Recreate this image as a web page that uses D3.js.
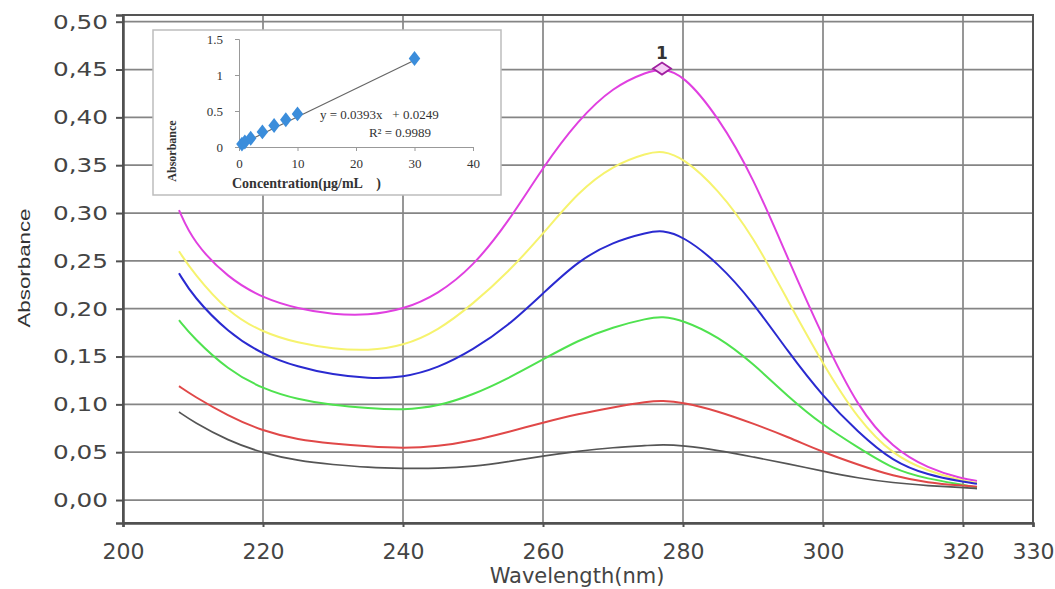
<!DOCTYPE html>
<html>
<head>
<meta charset="utf-8">
<script src="https://cdn.jsdelivr.net/npm/d3@7"></script>
<style>
  body { margin: 0; background: #fff; }
  text { white-space: pre; }
</style>
</head>
<body>
<svg id="chart" width="1055" height="589"></svg>
<script>
// spectra
var wavelengths = [208, 210, 215, 220, 225, 230, 235, 240, 245, 250, 255, 260, 265, 270, 275, 277, 280, 285, 290, 295, 300, 305, 310, 315, 320, 322];
var magenta = [0.303, 0.270, 0.232, 0.211, 0.200, 0.194, 0.193, 0.199, 0.215, 0.244, 0.290, 0.348, 0.397, 0.432, 0.448, 0.451, 0.445, 0.401, 0.338, 0.252, 0.170, 0.096, 0.054, 0.033, 0.022, 0.020];
var yellow  = [0.260, 0.238, 0.196, 0.175, 0.164, 0.158, 0.156, 0.161, 0.177, 0.205, 0.238, 0.278, 0.322, 0.350, 0.363, 0.365, 0.358, 0.325, 0.276, 0.208, 0.142, 0.084, 0.047, 0.030, 0.020, 0.018];
var blue    = [0.237, 0.213, 0.175, 0.152, 0.139, 0.131, 0.127, 0.128, 0.138, 0.157, 0.182, 0.216, 0.250, 0.270, 0.280, 0.282, 0.276, 0.248, 0.207, 0.155, 0.108, 0.071, 0.040, 0.026, 0.019, 0.017];
var green   = [0.188, 0.170, 0.136, 0.116, 0.105, 0.099, 0.096, 0.094, 0.098, 0.110, 0.127, 0.147, 0.167, 0.181, 0.190, 0.192, 0.188, 0.171, 0.143, 0.108, 0.078, 0.055, 0.032, 0.022, 0.016, 0.013];
var red     = [0.119, 0.109, 0.088, 0.072, 0.063, 0.059, 0.056, 0.054, 0.056, 0.062, 0.071, 0.081, 0.090, 0.097, 0.103, 0.104, 0.102, 0.093, 0.080, 0.066, 0.050, 0.037, 0.025, 0.018, 0.015, 0.014];
var black   = [0.092, 0.082, 0.062, 0.049, 0.041, 0.037, 0.034, 0.033, 0.033, 0.035, 0.040, 0.046, 0.051, 0.055, 0.057, 0.058, 0.057, 0.052, 0.045, 0.038, 0.030, 0.023, 0.018, 0.015, 0.013, 0.012];

var seriesColors = ['#e040e0', '#f6f36e', '#2a2ad0', '#4fe24f', '#e04848', '#555555'];
var peak = { x: 277, y: 0.451, label: '1' };

var xTicks = [200, 220, 240, 260, 280, 300, 320, 330];
var yTicks = [0, 0.05, 0.10, 0.15, 0.20, 0.25, 0.30, 0.35, 0.40, 0.45, 0.50];

// calibration inset
var concentrations = [0.5, 1, 2, 4, 6, 8, 10, 30];
var calAbsorbance = [0.04, 0.07, 0.12, 0.21, 0.30, 0.38, 0.46, 1.23];
var trendX = [0, 30];
var trendY = [0.0249, 1.2039];
var insetXTicks = [0, 10, 20, 30, 40];
var insetYTicks = [0, 0.5, 1, 1.5];

var svg = d3.select('#chart');

var x = d3.scaleLinear().domain([200, 330]).range([123, 1033]);
var y = d3.scaleLinear().domain([-0.024, 0.507]).range([523, 15]);

// grid
svg.append('g').selectAll('line').data(yTicks).enter().append('line')
  .attr('x1', 123).attr('x2', 1033)
  .attr('y1', function(d) { return y(d); }).attr('y2', function(d) { return y(d); })
  .attr('stroke', '#858585').attr('stroke-width', 1.7);

svg.append('g').selectAll('line').data(xTicks.filter(function(d) { return d > 200 && d < 330; })).enter().append('line')
  .attr('y1', 15).attr('y2', 523)
  .attr('x1', function(d) { return x(d); }).attr('x2', function(d) { return x(d); })
  .attr('stroke', '#858585').attr('stroke-width', 1.7);

// frame
svg.append('rect')
  .attr('x', 123).attr('y', 15).attr('width', 910).attr('height', 508)
  .attr('fill', 'none').attr('stroke', '#555').attr('stroke-width', 2);

// axes
var yAxis = svg.append('g')
  .attr('transform', 'translate(123,0)')
  .call(d3.axisLeft(y).tickValues(yTicks).tickSize(7).tickPadding(8)
    .tickFormat(function(d) { return d3.format('.2f')(d).replace('.', ','); }));

var xAxis = svg.append('g')
  .attr('transform', 'translate(0,523)')
  .call(d3.axisBottom(x).tickValues(xTicks).tickSize(4).tickPadding(16).tickFormat(d3.format('d')));

[yAxis, xAxis].forEach(function(ax) {
  ax.select('.domain').attr('stroke', '#505050').attr('stroke-width', 2.5);
  ax.selectAll('.tick line').attr('stroke', '#505050').attr('stroke-width', 2);
  ax.selectAll('.tick text').attr('fill', '#444').attr('font-family', 'DejaVu Sans');
});
yAxis.selectAll('.tick text').attr('font-size', 20)
  .attr('textLength', 55).attr('lengthAdjust', 'spacingAndGlyphs');
xAxis.selectAll('.tick text').attr('font-size', 22);

// curves
var line = d3.line()
  .x(function(d) { return x(d[0]); })
  .y(function(d) { return y(d[1]); })
  .curve(d3.curveBasis);

[magenta, yellow, blue, green, red, black].forEach(function(s, i) {
  svg.append('path')
    .datum(wavelengths.map(function(w, j) { return [w, s[j]]; }))
    .attr('d', line)
    .attr('fill', 'none')
    .attr('stroke', seriesColors[i])
    .attr('stroke-width', i == 5 ? 1.7 : 2);
});

// peak marker: flat open diamond
var px = x(peak.x), py = y(peak.y);
svg.append('path')
  .attr('d', 'M' + (px - 9) + ',' + py + 'L' + px + ',' + (py - 6) + 'L' + (px + 9) + ',' + py + 'L' + px + ',' + (py + 6) + 'Z')
  .attr('fill', '#f6cdf6').attr('stroke', '#a020a0').attr('stroke-width', 1.8);

svg.append('text')
  .attr('x', px).attr('y', py - 10)
  .attr('text-anchor', 'middle')
  .attr('font-family', 'DejaVu Sans').attr('font-size', 17).attr('font-weight', 'bold')
  .attr('fill', '#333')
  .text(peak.label);

// axis titles
svg.append('text')
  .attr('transform', 'translate(30,268) rotate(-90)')
  .attr('text-anchor', 'middle')
  .attr('font-family', 'Liberation Sans').attr('font-size', 17)
  .attr('textLength', 119).attr('lengthAdjust', 'spacingAndGlyphs')
  .attr('fill', '#333')
  .text('Absorbance');

svg.append('text')
  .attr('x', 577).attr('y', 583)
  .attr('text-anchor', 'middle')
  .attr('font-family', 'DejaVu Sans').attr('font-size', 21)
  .attr('fill', '#444')
  .text('Wavelength(nm)');

// ---- inset: calibration curve ----
var inset = svg.append('g');

inset.append('rect')
  .attr('x', 153).attr('y', 30).attr('width', 348).attr('height', 165)
  .attr('fill', '#fff').attr('stroke', '#bdbdbd').attr('stroke-width', 1.5);

var ix = d3.scaleLinear().domain([0, 40]).range([239, 473]);
var iy = d3.scaleLinear().domain([0, 1.5]).range([147, 39]);

var iyAxis = inset.append('g')
  .attr('transform', 'translate(239,0)')
  .call(d3.axisLeft(iy).tickValues(insetYTicks).tickSize(4).tickPadding(12).tickFormat(d3.format('')));

var ixAxis = inset.append('g')
  .attr('transform', 'translate(0,147)')
  .call(d3.axisBottom(ix).tickValues(insetXTicks).tickSize(4).tickPadding(8).tickFormat(d3.format('d')));

[iyAxis, ixAxis].forEach(function(ax) {
  ax.select('.domain').attr('stroke', '#999');
  ax.selectAll('.tick line').attr('stroke', '#999');
  ax.selectAll('.tick text')
    .attr('fill', '#333')
    .attr('font-family', 'Liberation Serif')
    .attr('font-size', 13);
});

inset.append('path')
  .datum(trendX.map(function(v, i) { return [v, trendY[i]]; }))
  .attr('d', d3.line().x(function(d) { return ix(d[0]); }).y(function(d) { return iy(d[1]); }))
  .attr('stroke', '#666').attr('stroke-width', 1.2).attr('fill', 'none');

inset.append('g').selectAll('path')
  .data(concentrations).enter().append('path')
  .attr('d', d3.symbol().type(d3.symbolDiamond).size(80)())
  .attr('transform', function(d, i) {
    return 'translate(' + ix(d) + ',' + iy(calAbsorbance[i]) + ') scale(1.2,0.9)';
  })
  .attr('fill', '#3b8ddb');

inset.append('text')
  .attr('x', 320).attr('y', 119)
  .attr('font-family', 'Liberation Serif').attr('font-size', 13)
  .attr('fill', '#333')
  .text('y = 0.0393x   + 0.0249');

inset.append('text')
  .attr('x', 400).attr('y', 137)
  .attr('text-anchor', 'middle')
  .attr('font-family', 'Liberation Serif').attr('font-size', 13)
  .attr('fill', '#333')
  .text('R² = 0.9989');

inset.append('text')
  .attr('x', 232).attr('y', 188)
  .attr('font-family', 'Liberation Serif').attr('font-size', 14)
  .attr('font-weight', 'bold')
  .attr('fill', '#333')
  .text('Concentration(µg/mL    )');

inset.append('text')
  .attr('transform', 'translate(176,151) rotate(-90)')
  .attr('text-anchor', 'middle')
  .attr('font-family', 'Liberation Serif').attr('font-size', 12)
  .attr('font-weight', 'bold')
  .attr('fill', '#333')
  .text('Absorbance');
</script>
</body>
</html>
